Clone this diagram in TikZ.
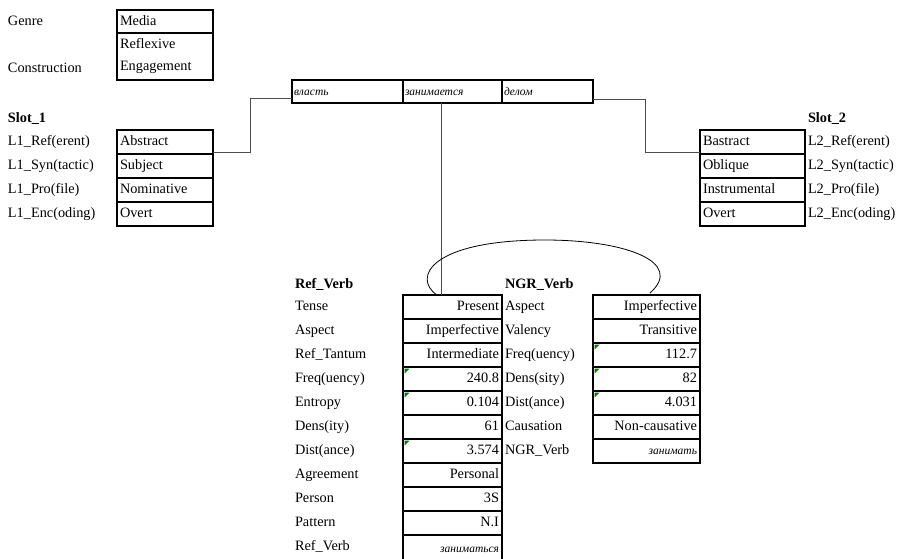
\documentclass[tikz,border=0pt]{standalone}
\usepackage{fontspec}
\setmainfont{Liberation Serif}
\usetikzlibrary{calc}
\definecolor{exgreen}{RGB}{0,128,0}
\tikzset{
  base/.style={font=\fontsize{14.3}{17}\selectfont, text height=10pt, text depth=3pt, inner sep=0pt, outer sep=0pt},
  lbl/.style={base, anchor=west},
  hdr/.style={base, anchor=west, font=\fontsize{14.3}{17}\selectfont\bfseries},
  cell/.style={base, draw, line width=2pt, anchor=north west, minimum height=24pt, inner xsep=3pt, text width=#1},
  cellL/.style={cell=#1, align=left},
  cellR/.style={cell=#1, align=right},
  sent/.style={cellL=#1, minimum height=23pt, inner xsep=2pt, font=\fontsize{11.5}{14}\selectfont\itshape},
  conn/.style={draw=black!70, line width=0.9pt},
  flag/.style={fill=exgreen}
}
\begin{document}
\begin{tikzpicture}[x=1pt,y=-1pt]
\useasboundingbox (0,0) rectangle (898,558);

% Genre / Construction
\node[lbl] (genre) at (8,22) {Genre};
\node[lbl] (constr) at (8,69) {Construction};
\node[cellL=90pt, minimum height=23pt] (media) at (117,10) {Media};
\node[draw, line width=2pt, anchor=north west, outer sep=0pt, minimum width=96pt, minimum height=47pt, inner xsep=3pt, inner ysep=0pt, text width=90pt, align=left, font=\fontsize{14.3}{22}\selectfont] (cons) at (117,33) {Reflexive\\Engagement};

% Sentence
\node[sent=107pt] (s1) at (292,80) {власть};
\node[sent=95pt] (s2) at (403,80) {занимается};
\node[sent=87pt] (s3) at (502,80) {делом};

% Slot 1
\node[hdr] (slot1) at (8,119) {Slot\_1};
\foreach \l/\v [count=\i] in {L1\_Ref(erent)/Abstract, L1\_Syn(tactic)/Subject, L1\_Pro(file)/Nominative, L1\_Enc(oding)/Overt}{
  \node[lbl] (al\i) at (8,{142+24*(\i-1)}) {\l};
  \node[cellL=90pt] (a\i) at (117,{130+24*(\i-1)}) {\v};
}

% Slot 2
\node[hdr] (slot2) at (808,119) {Slot\_2};
\foreach \l/\v [count=\i] in {L2\_Ref(erent)/Bastract, L2\_Syn(tactic)/Oblique, L2\_Pro(file)/Instrumental, L2\_Enc(oding)/Overt}{
  \node[cellL=99pt] (b\i) at (700,{130+24*(\i-1)}) {\v};
  \node[lbl] (bl\i) at (808,{142+24*(\i-1)}) {\l};
}

% Ref_Verb table
\node[hdr] (refh) at (295,285) {Ref\_Verb};
\foreach \l/\v [count=\i] in {Tense/Present, Aspect/Imperfective, Ref\_Tantum/Intermediate, Freq(uency)/240.8, Entropy/0.104, Dens(ity)/61, Dist(ance)/3.574, Agreement/Personal, Person/3S, Pattern/N.I}{
  \node[lbl] (rl\i) at (295,{307+24*(\i-1)}) {\l};
  \node[cellR=93pt] (r\i) at (403,{295+24*(\i-1)}) {\v};
}
\node[lbl] (rl11) at (295,{307+240}) {Ref\_Verb};
\node[cellR=93pt, minimum height=27pt] (r11) at (403,{295+240}) {\fontsize{11.5}{14}\selectfont\itshape заниматься};

% NGR_Verb table
\node[hdr] (ngrh) at (505,285) {NGR\_Verb};
\foreach \l/\v [count=\i] in {Aspect/Imperfective, Valency/Transitive, Freq(uency)/112.7, Dens(sity)/82, Dist(ance)/4.031, Causation/Non-causative}{
  \node[lbl] (nl\i) at (505,{307+24*(\i-1)}) {\l};
  \node[cellR=101pt] (n\i) at (593,{295+24*(\i-1)}) {\v};
}
\node[lbl] (nl7) at (505,{307+144}) {NGR\_Verb};
\node[cellR=101pt] (n7) at (593,{295+144}) {\fontsize{11.5}{14}\selectfont\itshape занимать};

% green flags
\foreach \c in {r4,r5,r7,n3,n4,n5}{
  \fill[flag] (\c.north west) ++(1.5,1.5) -- ++(5,0) -- ++(-5,5) -- cycle;
}

% connectors
\draw[conn] ($(a1.south east)+(0,-2)$) -- ++(37,0) |- ($(s1.south west)+(0,-5)$);
\draw[conn] ($(s3.south east)+(0,-4)$) -- ++(52,0) |- ($(b1.south west)+(0,-2)$);
\draw[conn] ($(s2.south)+(-11.5,0)$) -- ($(r1.north)+(-11.5,0)$);
\draw[line width=0.8pt] ($(r1.north)+(-15.5,0)$) .. controls (412,278) and (430,240) .. (545,240)
   .. controls (625,240) and (685,262) .. ($(n1.north)+(3.5,-2)$);
\end{tikzpicture}
\end{document}
